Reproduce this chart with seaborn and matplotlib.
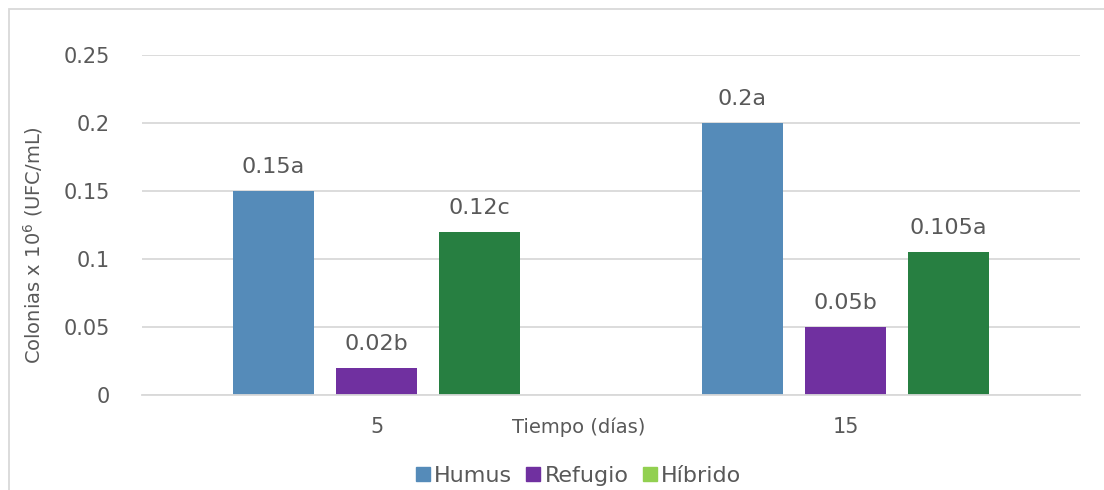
import matplotlib
matplotlib.use("Agg")
import matplotlib.pyplot as plt
from matplotlib.lines import Line2D
from matplotlib.patches import Rectangle
import seaborn as sns
import pandas as pd

# Data
dias = ["5", "15"]
tratamientos = ["Humus", "Refugio", "Híbrido"]
humus = [0.15, 0.20]
refugio = [0.02, 0.05]
hibrido = [0.12, 0.105]
letras = {
    "Humus": ["a", "a"],
    "Refugio": ["b", "b"],
    "Híbrido": ["c", "a"],
}
yticks = [0, 0.05, 0.1, 0.15, 0.2, 0.25]
ytick_labels = ["0", "0.05", "0.1", "0.15", "0.2", "0.25"]

bar_colors = ["#558BB9", "#7030A0", "#277F41"]
legend_colors = ["#558BB9", "#7030A0", "#92D050"]
text_color = "#595959"
grid_color = "#D9D9D9"

df = pd.DataFrame({
    "Tiempo": dias * 3,
    "Tratamiento": [t for t in tratamientos for _ in dias],
    "Valor": humus + refugio + hibrido,
})

sns.set_theme(style="white")
plt.rcParams["font.family"] = ["DejaVu Sans"]

fig = plt.figure(figsize=(11.04, 4.9), dpi=100)
ax = fig.add_axes([142 / 1104, 1 - 395 / 490, (1080 - 142) / 1104, (395 - 55) / 490])

sns.barplot(
    data=df, x="Tiempo", y="Valor", hue="Tratamiento",
    order=dias, hue_order=tratamientos, palette=bar_colors,
    width=0.659, gap=0.214, saturation=1, legend=False, ax=ax,
    errorbar=None, linewidth=0,
)

ax.set_ylim(0, 0.25)
ax.set_yticks(yticks)
ax.set_yticklabels(ytick_labels)
ax.yaxis.grid(True, color=grid_color, linewidth=1.3)
ax.set_axisbelow(True)
for side in ["top", "right", "left"]:
    ax.spines[side].set_visible(False)
ax.spines["bottom"].set_color(grid_color)
ax.spines["bottom"].set_linewidth(1.3)
ax.tick_params(axis="both", length=0, labelsize=15, colors=text_color)
ax.tick_params(axis="y", pad=23)
ax.tick_params(axis="x", pad=16)

ax.set_xlabel("Tiempo (días)", fontsize=14, color=text_color)
ax.xaxis.set_label_coords((579 - 142) / (1080 - 142), -32 / 340, transform=ax.transAxes)
ax.xaxis.label.set_va("center")
ax.set_ylabel("Colonias x 10$^{6}$ (UFC/mL)", fontsize=14, color=text_color)
ax.yaxis.set_label_coords(45 / 1104, 0.5, transform=fig.transFigure)

# Value labels with significance letters
for cont, trat in zip(ax.containers, tratamientos):
    vals = df[df["Tratamiento"] == trat]["Valor"].tolist()
    labels = [f"{v:g}{l}" for v, l in zip(vals, letras[trat])]
    ax.bar_label(cont, labels=labels, padding=10, fontsize=16, color=text_color)

# Legend
handles = [Line2D([], [], marker="s", linestyle="none", markersize=9.5,
                  markerfacecolor=c, markeredgecolor=c) for c in legend_colors]
fig.legend(handles, tratamientos, loc="center", bbox_to_anchor=(577 / 1104, 1 - 476 / 490),
           ncol=3, frameon=False, fontsize=16, labelcolor=text_color,
           handletextpad=0.05, columnspacing=0.5, handlelength=0.9)

# Chart frame
fig.patches.append(Rectangle((9 / 1104, -0.1), 1.2, 1 - 9 / 490 + 0.1,
                             transform=fig.transFigure, fill=False,
                             edgecolor=grid_color, linewidth=1.3))

fig.savefig("out.png", dpi=100)
